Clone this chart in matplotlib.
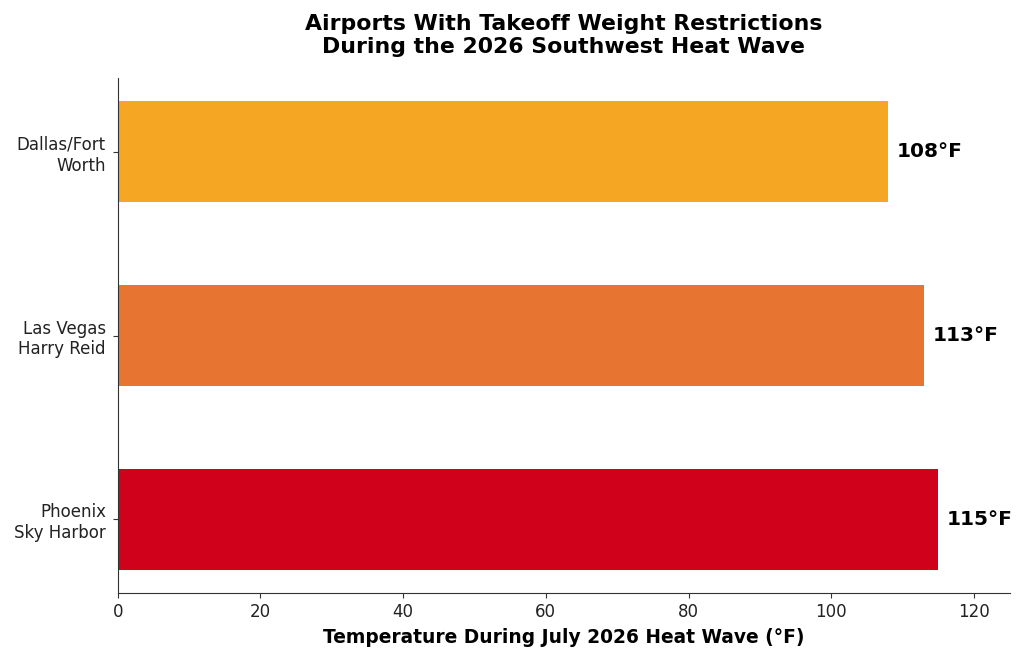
import matplotlib
matplotlib.use("Agg")
import matplotlib.pyplot as plt

airports = ["Phoenix\nSky Harbor", "Las Vegas\nHarry Reid", "Dallas/Fort\nWorth"]
temps = [115, 113, 108]
colors = ["#D0021B", "#E87431", "#F5A623"]
value_labels = ["115°F", "113°F", "108°F"]

fig, ax = plt.subplots(figsize=(10.24, 6.6), dpi=100)
bars = ax.barh(airports, temps, height=0.55, color=colors)
for b, lab in zip(bars, value_labels):
    ax.text(b.get_width() + 1.2, b.get_y() + b.get_height() / 2, lab,
            va="center", ha="left", fontsize=14.5, fontweight="bold", color="black")

ax.set_xlim(0, 125)
ax.spines["top"].set_visible(False)
ax.spines["right"].set_visible(False)
for s in ("left", "bottom"):
    ax.spines[s].set_color("#333333")
ax.tick_params(axis="both", labelsize=12, colors="#333333", labelcolor="#222222")
ax.tick_params(axis="y", pad=5)
ax.set_xlabel("Temperature During July 2026 Heat Wave (°F)", fontsize=13.4, fontweight="bold", labelpad=5)
ax.set_title("Airports With Takeoff Weight Restrictions\nDuring the 2026 Southwest Heat Wave",
             fontsize=15.8, fontweight="bold", pad=18)

fig.subplots_adjust(left=0.115, right=0.986, top=0.882, bottom=0.101)
fig.savefig("out.png", dpi=100)
